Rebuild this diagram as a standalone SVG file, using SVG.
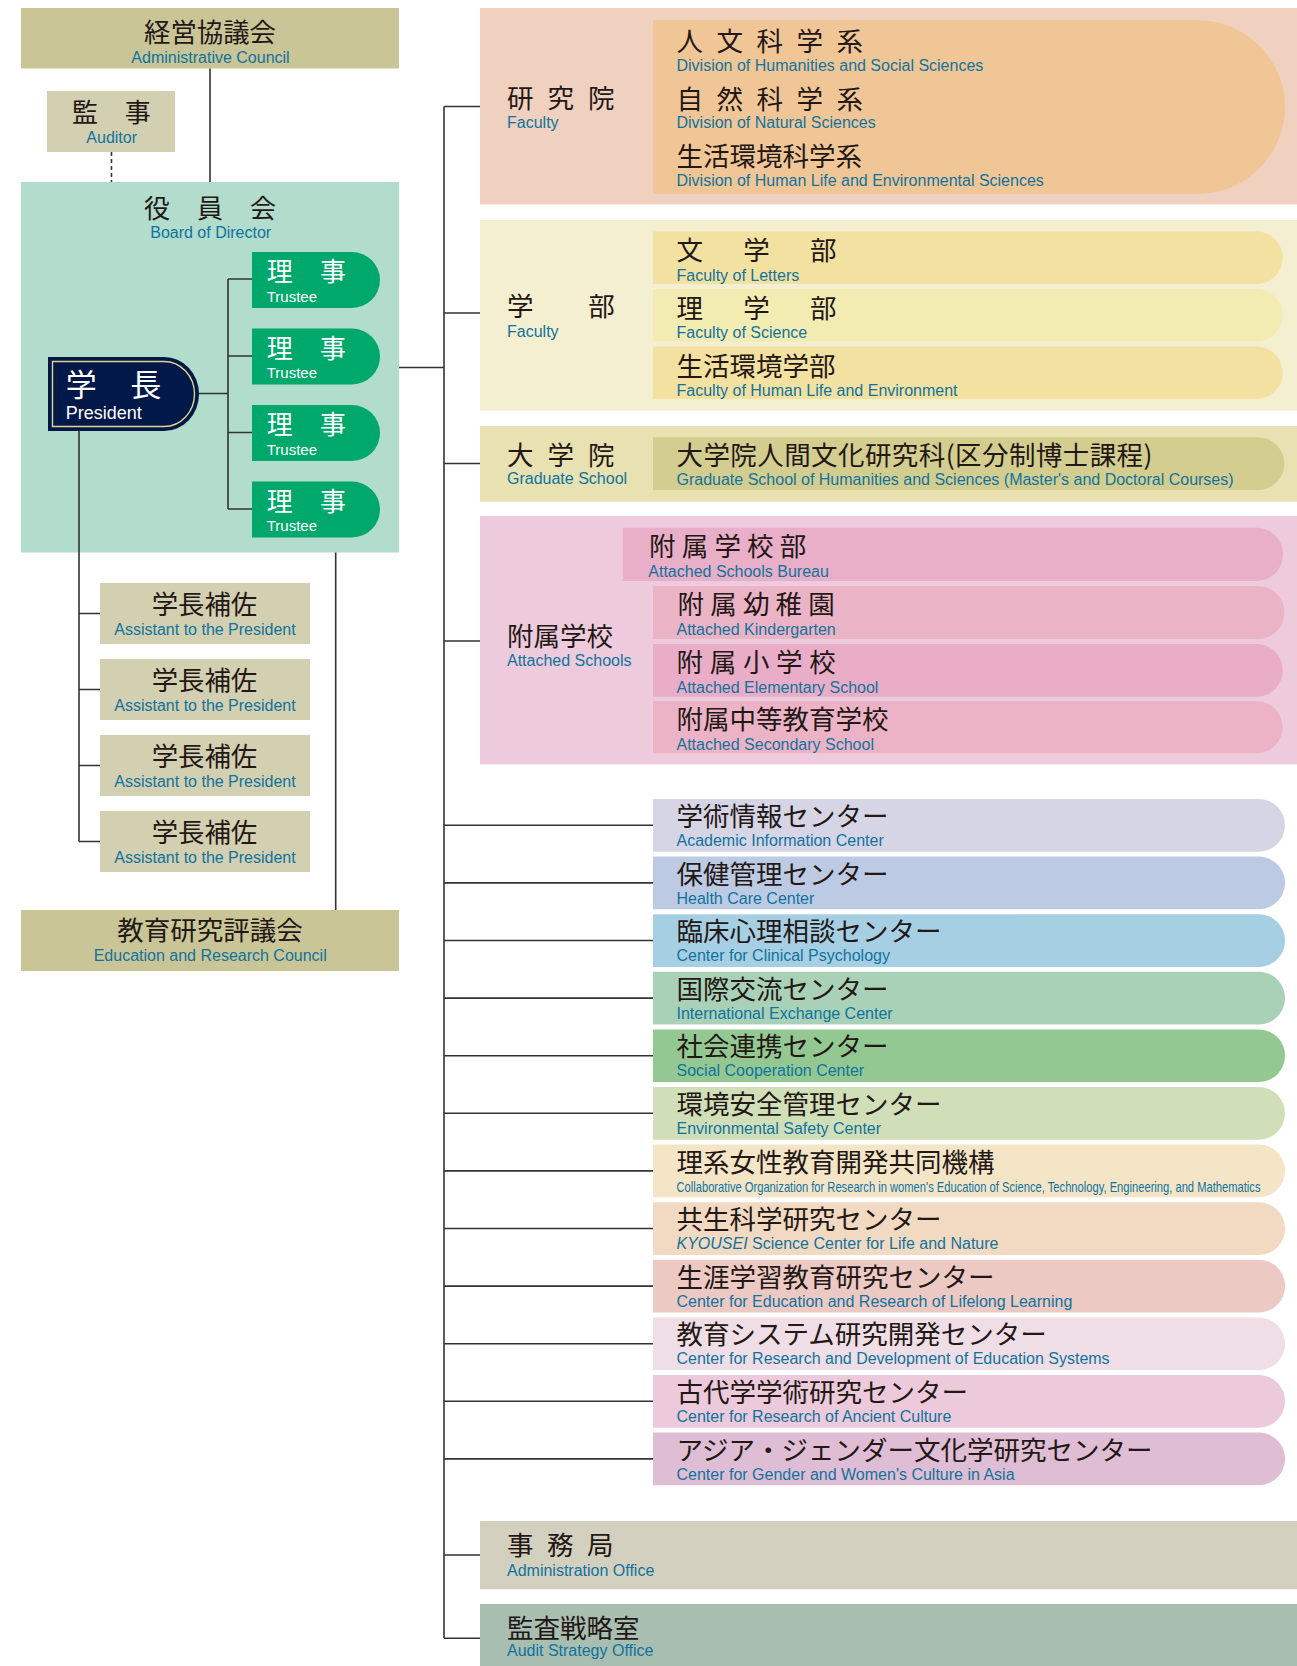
<svg xmlns="http://www.w3.org/2000/svg" width="1297" height="1666" viewBox="0 0 1297 1666">
<style>
.jp{font-family:"Noto Sans CJK JP","Noto Sans CJK SC",sans-serif;font-size:26.5px;fill:#231815}
.en{font-family:"Liberation Sans",Arial,sans-serif;font-size:16px;fill:#10739e}
.w{fill:#ffffff}
.c{text-anchor:middle}
.ln{stroke:#333333;stroke-width:1.6;fill:none}
.tr{fill:#00a86b}
.tj{font-size:26px}
.te{font-size:15px}
</style>
<rect width="1297" height="1666" fill="#ffffff"/>

<!-- Left side -->
<g id="admin-council">
<rect x="21" y="8" width="378" height="60.5" fill="#c9c597"/>
<text class="jp" x="144" y="41.5" style="font-size:26.4px">経営協議会</text>
<text class="en c" x="210.5" y="62.5">Administrative Council</text>
</g>
<g id="auditor">
<rect x="47" y="91" width="128" height="61" fill="#d3cfb1"/>
<text class="jp tj" x="72" y="122" letter-spacing="26.7">監事</text>
<text class="en c" x="111.7" y="143">Auditor</text>
</g>
<g id="board">
<rect x="21" y="182" width="378" height="370.5" fill="#b2dccb"/>
<text class="jp tj" x="144" y="217.5" letter-spacing="27">役員会</text>
<text class="en c" x="210.7" y="238.2">Board of Director</text>
</g>
<g id="president">
<path d="M48,357 H164 A35,37 0 0 1 164,431 H48 Z" fill="#021848"/>
<path d="M52.5,361.5 H164 A30.5,32.5 0 0 1 164,426.5 H52.5 Z" fill="none" stroke="#e3d38c" stroke-width="1.4"/>
<text class="jp w" x="65.7" y="396" style="font-size:31px" letter-spacing="33.5">学長</text>
<text class="en w" x="65.7" y="419" style="font-size:18px">President</text>
</g>
<g id="trustee-1">
<path class="tr" d="M252,252 H352 A28,28 0 0 1 352,308 H252 Z"/>
<text class="jp w tj" x="266.7" y="281" letter-spacing="27.3">理事</text>
<text class="en w te" x="266.7" y="301.7">Trustee</text>
</g>
<g id="trustee-2">
<path class="tr" d="M252,328.5 H352 A28,28 0 0 1 352,384.5 H252 Z"/>
<text class="jp w tj" x="266.7" y="357.5" letter-spacing="27.3">理事</text>
<text class="en w te" x="266.7" y="378.2">Trustee</text>
</g>
<g id="trustee-3">
<path class="tr" d="M252,405 H352 A28,28 0 0 1 352,461 H252 Z"/>
<text class="jp w tj" x="266.7" y="434" letter-spacing="27.3">理事</text>
<text class="en w te" x="266.7" y="454.7">Trustee</text>
</g>
<g id="trustee-4">
<path class="tr" d="M252,481.5 H352 A28,28 0 0 1 352,537.5 H252 Z"/>
<text class="jp w tj" x="266.7" y="510.5" letter-spacing="27.3">理事</text>
<text class="en w te" x="266.7" y="531.2">Trustee</text>
</g>
<g id="assistant-1">
<rect x="100" y="583" width="210" height="61" fill="#d3cfb1"/>
<text class="jp" x="151.7" y="614" style="font-size:26.4px">学長補佐</text>
<text class="en c" x="205" y="635">Assistant to the President</text>
</g>
<g id="assistant-2">
<rect x="100" y="659" width="210" height="61" fill="#d3cfb1"/>
<text class="jp" x="151.7" y="690" style="font-size:26.4px">学長補佐</text>
<text class="en c" x="205" y="711">Assistant to the President</text>
</g>
<g id="assistant-3">
<rect x="100" y="735" width="210" height="61" fill="#d3cfb1"/>
<text class="jp" x="151.7" y="766" style="font-size:26.4px">学長補佐</text>
<text class="en c" x="205" y="787">Assistant to the President</text>
</g>
<g id="assistant-4">
<rect x="100" y="811" width="210" height="61" fill="#d3cfb1"/>
<text class="jp" x="151.7" y="842" style="font-size:26.4px">学長補佐</text>
<text class="en c" x="205" y="863">Assistant to the President</text>
</g>
<g id="education-council">
<rect x="21" y="910" width="378" height="61" fill="#c9c597"/>
<text class="jp" x="117.3" y="939.5">教育研究評議会</text>
<text class="en c" x="210.2" y="960.7">Education and Research Council</text>
</g>

<!-- Right side -->
<g id="kenkyuin">
<rect x="480" y="8" width="817" height="196.5" fill="#f0d1bf"/>
<path d="M653,20 H1197 A88,87 0 0 1 1197,194 H653 Z" fill="#f0c697"/>
<text class="jp" x="507" y="108" letter-spacing="14">研究院</text>
<text class="en" x="507" y="128">Faculty</text>
<text class="jp" x="676.5" y="51" letter-spacing="13.5">人文科学系</text>
<text class="en" x="676.5" y="70.7">Division of Humanities and Social Sciences</text>
<text class="jp" x="676.5" y="109" letter-spacing="13.5">自然科学系</text>
<text class="en" x="676.5" y="128.3">Division of Natural Sciences</text>
<text class="jp" x="676.5" y="166">生活環境科学系</text>
<text class="en" x="676.5" y="185.7">Division of Human Life and Environmental Sciences</text>
</g>
<g id="gakubu">
<rect x="480" y="220" width="817" height="190.7" fill="#f4efd0"/>
<text class="jp" x="507" y="315.5" letter-spacing="54.8">学部</text>
<text class="en" x="507" y="336.5">Faculty</text>
<path d="M653,231.5 H1258 A26.3,26.3 0 0 1 1258,284 H653 Z" fill="#f3e1a1"/>
<text class="jp" x="676.5" y="260" letter-spacing="40.3">文学部</text>
<text class="en" x="676.5" y="281">Faculty of Letters</text>
<path d="M653,289 H1258 A26.3,26.3 0 0 1 1258,341.5 H653 Z" fill="#f3ecb2"/>
<text class="jp" x="676.5" y="318" letter-spacing="40.3">理学部</text>
<text class="en" x="676.5" y="338.3">Faculty of Science</text>
<path d="M653,346.5 H1258 A26.3,26.3 0 0 1 1258,399 H653 Z" fill="#f3e1a1"/>
<text class="jp" x="676.5" y="375.5">生活環境学部</text>
<text class="en" x="676.5" y="396">Faculty of Human Life and Environment</text>
</g>
<g id="daigakuin">
<rect x="480" y="426" width="817" height="75.7" fill="#e8e1b1"/>
<text class="jp" x="507" y="464.5" letter-spacing="14">大学院</text>
<text class="en" x="507" y="484">Graduate School</text>
<path d="M653,437.3 H1258 A26.3,26.3 0 0 1 1258,490 H653 Z" fill="#d4cd90"/>
<text class="jp" x="676.5" y="465" textLength="476">大学院人間文化研究科(区分制博士課程)</text>
<text class="en" x="676.5" y="485">Graduate School of Humanities and Sciences (Master's and Doctoral Courses)</text>
</g>
<g id="fuzoku">
<rect x="480" y="516" width="817" height="248.3" fill="#eecbdc"/>
<text class="jp" x="507" y="646">附属学校</text>
<text class="en" x="507" y="666">Attached Schools</text>
<path d="M622.8,527.7 H1258 A26.7,26.7 0 0 1 1258,581 H622.8 Z" fill="#e9aec8"/>
<text class="jp" x="649" y="556" letter-spacing="6.2">附属学校部</text>
<text class="en" x="648.3" y="576.5">Attached Schools Bureau</text>
<path d="M653,586 H1258 A26.5,26.5 0 0 1 1258,639 H653 Z" fill="#ebb3c6"/>
<text class="jp" x="677.5" y="614" letter-spacing="6.2">附属幼稚園</text>
<text class="en" x="676.5" y="634.5">Attached Kindergarten</text>
<path d="M653,644 H1258 A26.4,26.4 0 0 1 1258,696.7 H653 Z" fill="#e9adc8"/>
<text class="jp" x="676.5" y="672" letter-spacing="6.7">附属小学校</text>
<text class="en" x="676.5" y="692.5">Attached Elementary School</text>
<path d="M653,701 H1258 A26.2,26.2 0 0 1 1258,753.3 H653 Z" fill="#ebb3c5"/>
<text class="jp" x="676.5" y="729">附属中等教育学校</text>
<text class="en" x="676.5" y="749.5">Attached Secondary School</text>
</g>

<g id="center-1">
<path d="M653,799 H1258.7 A26.3,26.3 0 0 1 1258.7,851.7 H653 Z" fill="#d6d5e6"/>
<text class="jp" x="676.5" y="826">学術情報センター</text>
<text class="en" x="676.5" y="846">Academic Information Center</text>
</g>
<g id="center-2">
<path d="M653,856.6 H1258.7 A26.3,26.3 0 0 1 1258.7,909.3 H653 Z" fill="#bccbe3"/>
<text class="jp" x="676.5" y="883.6">保健管理センター</text>
<text class="en" x="676.5" y="903.6">Health Care Center</text>
</g>
<g id="center-3">
<path d="M653,914.2 H1258.7 A26.3,26.3 0 0 1 1258.7,966.9 H653 Z" fill="#a7cfe3"/>
<text class="jp" x="676.5" y="941.2">臨床心理相談センター</text>
<text class="en" x="676.5" y="961.2">Center for Clinical Psychology</text>
</g>
<g id="center-4">
<path d="M653,971.8 H1258.7 A26.3,26.3 0 0 1 1258.7,1024.5 H653 Z" fill="#a9d1b7"/>
<text class="jp" x="676.5" y="998.8">国際交流センター</text>
<text class="en" x="676.5" y="1018.8">International Exchange Center</text>
</g>
<g id="center-5">
<path d="M653,1029.4 H1258.7 A26.3,26.3 0 0 1 1258.7,1082.1 H653 Z" fill="#94c893"/>
<text class="jp" x="676.5" y="1056.4">社会連携センター</text>
<text class="en" x="676.5" y="1076.4">Social Cooperation Center</text>
</g>
<g id="center-6">
<path d="M653,1087 H1258.7 A26.3,26.3 0 0 1 1258.7,1139.7 H653 Z" fill="#d1dfb9"/>
<text class="jp" x="676.5" y="1114">環境安全管理センター</text>
<text class="en" x="676.5" y="1134">Environmental Safety Center</text>
</g>
<g id="center-7">
<path d="M653,1144.6 H1258.7 A26.3,26.3 0 0 1 1258.7,1197.3 H653 Z" fill="#f4e5c7"/>
<text class="jp" x="676.5" y="1171.6">理系女性教育開発共同機構</text>
<text class="en" x="676.5" y="1191.6" style="font-size:15px" textLength="584" lengthAdjust="spacingAndGlyphs">Collaborative Organization for Research in women's Education of Science, Technology, Engineering, and Mathematics</text>
</g>
<g id="center-8">
<path d="M653,1202.2 H1258.7 A26.3,26.3 0 0 1 1258.7,1254.9 H653 Z" fill="#f2d9c1"/>
<text class="jp" x="676.5" y="1229.2">共生科学研究センター</text>
<text class="en" x="676.5" y="1249.2"><tspan font-style="italic">KYOUSEI</tspan> Science Center for Life and Nature</text>
</g>
<g id="center-9">
<path d="M653,1259.8 H1258.7 A26.3,26.3 0 0 1 1258.7,1312.5 H653 Z" fill="#edc9c4"/>
<text class="jp" x="676.5" y="1286.8">生涯学習教育研究センター</text>
<text class="en" x="676.5" y="1306.8">Center for Education and Research of Lifelong Learning</text>
</g>
<g id="center-10">
<path d="M653,1317.4 H1258.7 A26.3,26.3 0 0 1 1258.7,1370.1 H653 Z" fill="#efdee5"/>
<text class="jp" x="676.5" y="1344.4">教育システム研究開発センター</text>
<text class="en" x="676.5" y="1364.4">Center for Research and Development of Education Systems</text>
</g>
<g id="center-11">
<path d="M653,1375 H1258.7 A26.3,26.3 0 0 1 1258.7,1427.7 H653 Z" fill="#eccadb"/>
<text class="jp" x="676.5" y="1402">古代学学術研究センター</text>
<text class="en" x="676.5" y="1422">Center for Research of Ancient Culture</text>
</g>
<g id="center-12">
<path d="M653,1432.6 H1258.7 A26.3,26.3 0 0 1 1258.7,1485.3 H653 Z" fill="#dfbdd4"/>
<text class="jp" x="676.5" y="1459.6">アジア・ジェンダー文化学研究センター</text>
<text class="en" x="676.5" y="1479.6">Center for Gender and Women's Culture in Asia</text>
</g>

<g id="jimukyoku">
<rect x="480" y="1521" width="817" height="68.3" fill="#d3d0c0"/>
<text class="jp" x="507" y="1555" letter-spacing="13.5">事務局</text>
<text class="en" x="507" y="1575.5">Administration Office</text>
</g>
<g id="kansa">
<rect x="480" y="1604" width="817" height="62" fill="#a8beb0"/>
<text class="jp" x="507" y="1638">監査戦略室</text>
<text class="en" x="507" y="1655.5">Audit Strategy Office</text>
</g>

<g id="connectors" class="ln">
<path d="M210,68.5 V182"/>
<path d="M111.5,152 V182" stroke-dasharray="4 3"/>
<path d="M199,393.5 H228 M228,279 V509 M228,279 H252 M228,356 H252 M228,432.5 H252 M228,509 H252"/>
<path d="M79,431 V841.5 M79,613.5 H100 M79,689.5 H100 M79,765.5 H100 M79,841.5 H100"/>
<path d="M335.7,552.5 V910"/>
<path d="M399,367.5 H444"/>
<path d="M444,106.5 V1638.3"/>
<path d="M444,106.5 H480 M444,313 H480 M444,463.5 H480 M444,641 H480 M444,1555 H480 M444,1638.3 H480"/>
<path d="M444,825.3 H653 M444,882.9 H653 M444,940.5 H653 M444,998.1 H653 M444,1055.7 H653 M444,1113.3 H653 M444,1170.9 H653 M444,1228.5 H653 M444,1286.1 H653 M444,1343.7 H653 M444,1401.3 H653 M444,1458.9 H653"/>
</g>
</svg>
